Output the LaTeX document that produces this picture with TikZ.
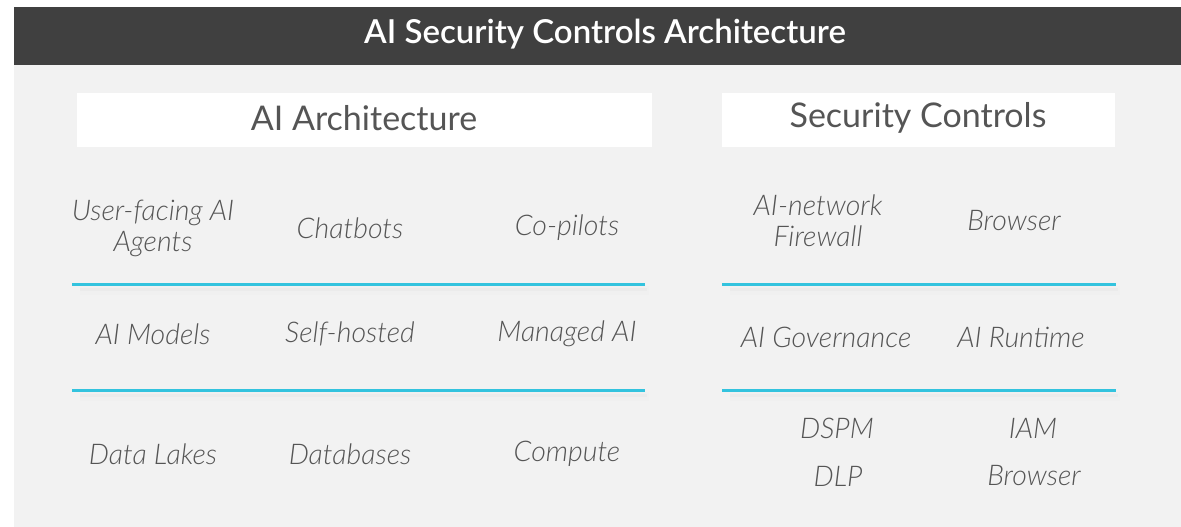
\documentclass[tikz,border=0pt]{standalone}
\usepackage{fontspec}
\setmainfont{Lato}
\newfontfamily\thinfont{Lato Light}[ItalicFont={Lato Light Italic}]
\newfontfamily\midfont{Lato Semibold}
\usetikzlibrary{positioning}
\definecolor{hdrgray}{HTML}{404040}
\definecolor{panelgray}{HTML}{F2F2F2}
\definecolor{rulecyan}{HTML}{33C3DE}
\definecolor{txtgray}{HTML}{555555}

\begin{document}
\begin{tikzpicture}[x=1pt,y=-1pt,
   item/.style={font=\thinfont\fontsize{28.5}{31}\selectfont\itshape,text=txtgray,align=center,inner sep=0pt},
   colhead/.style={fill=white,minimum height=54,inner sep=0pt},
   headtxt/.style={text=txtgray,font=\fontsize{34}{38}\selectfont,inner sep=0pt},
   sep/.style={rulecyan,line width=3pt},
   sepshade/.style={black!6,line width=9pt},
   sepshadein/.style={black!8,line width=3pt}]
  \useasboundingbox (0,0) rectangle (1181,527);
  \fill[panelgray] (14,65) rectangle (1181,527);
  \fill[hdrgray] (14,7) rectangle (1181,65);
  \node[text=white,font=\midfont\fontsize{33}{38}\selectfont,inner sep=0pt] (title) at (605,34)
    {AI Security Controls Architecture};
  % column headers
  \node[colhead,minimum width=575] (archbox) at (364.5,120) {};
  \node[colhead,minimum width=393] (ctrlbox) at (918.5,120) {};
  \node[headtxt] (archhead) at (364,118) {AI Architecture};
  \node[headtxt] (ctrlhead) at (918,118) {Security Controls};
  % dividers
  \foreach \y/\n in {284/a,390/b}{
    \coordinate (l\n1) at (72,\y);   \coordinate (l\n2) at (645,\y);
    \coordinate (r\n1) at (722,\y);  \coordinate (r\n2) at (1116,\y);
    \draw[sepshade] ([shift={(8,6)}]l\n1) -- ([shift={(4,6)}]l\n2);
    \draw[sepshade] ([shift={(8,6)}]r\n1) -- ([shift={(4,6)}]r\n2);
    \draw[sepshadein] ([shift={(8,5)}]l\n1) -- ([shift={(2,5)}]l\n2);
    \draw[sepshadein] ([shift={(8,5)}]r\n1) -- ([shift={(2,5)}]r\n2);
    \draw[sep] (l\n1) -- (l\n2);
    \draw[sep] (r\n1) -- (r\n2);
  }
  % architecture items
  \node[item] (agents) at (153,228) {User-facing AI\\Agents};
  \node[item] (chatbots) at (350,228) {Chatbots};
  \node[item] (copilots) at (567,228) {Co-pilots};
  \node[item] (models) at (153,334) {AI Models};
  \node[item] (selfhost) at (350,334) {Self-hosted};
  \node[item] (managed) at (567,334) {Managed AI};
  \node[item] (lakes) at (153,454) {Data Lakes};
  \node[item] (dbs) at (350,454) {Databases};
  \node[item] (compute) at (567,454) {Compute};
  % control items
  \node[item] (firewall) at (818,221) {AI-network\\Firewall};
  \node[item] (browsera) at (1014,221) {Browser};
  \node[item] (govern) at (826,337) {AI Governance};
  \node[item] (runtime) at (1021,337) {AI Runtime};
  \node[item] (dspm) at (837,428) {DSPM};
  \node[item] (iam) at (1033,428) {IAM};
  \node[item] (dlp) at (838,476) {DLP};
  \node[item] (browserb) at (1034,476) {Browser};
\end{tikzpicture}
\end{document}
